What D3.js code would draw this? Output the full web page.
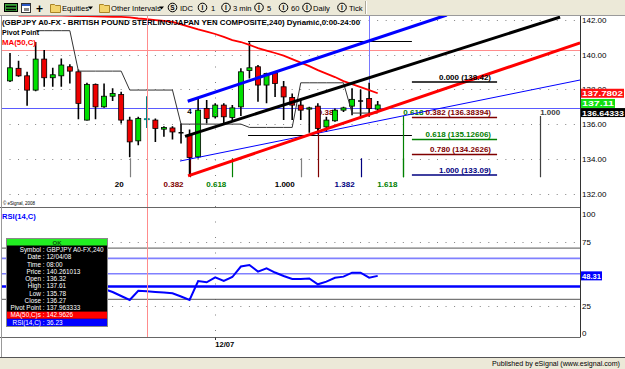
<!DOCTYPE html>
<html>
<head>
<meta charset="utf-8">
<script src="https://cdn.jsdelivr.net/npm/d3@7"></script>
<style>
  html, body { margin: 0; padding: 0; background: #fff; }
  svg { display: block; font-family: "Liberation Sans", Arial, sans-serif; }
</style>
</head>
<body>
<div id="chart"></div>
<script>
// GBPJPY 240-min candles (bar index 0..43)
const opens  = [138.49, 139.21, 138.78, 137.96, 139.74, 138.67, 138.78, 139.30, 139.01, 136.24,
                138.29, 137.00, 137.61, 137.71, 136.24, 135.05, 136.32, 136.24, 135.72, 135.79,
                135.52, 135.37, 134.13, 136.91, 136.43, 137.10, 136.39, 137.00, 139.08, 139.30,
                138.25, 138.95, 138.15, 137.54, 137.10, 136.87, 137.04, 135.85, 136.20, 136.81,
                137.04, 137.33, 137.48, 136.87];
const highs  = [140.09, 139.64, 139.01, 140.72, 140.26, 139.24, 139.78, 139.45, 139.15, 138.38,
                138.34, 138.34, 138.06, 137.86, 136.43, 136.43, 137.61, 136.33, 135.89, 135.89,
                136.05, 135.70, 137.48, 137.39, 137.20, 137.20, 137.10, 139.21, 140.70, 139.40,
                138.95, 138.98, 138.49, 137.77, 137.39, 137.00, 137.20, 136.43, 136.91, 137.00,
                138.06, 138.00, 138.38, 137.33];
const lows   = [138.42, 138.72, 137.06, 137.90, 138.15, 138.15, 138.15, 138.34, 136.29, 136.21,
                136.29, 136.95, 137.33, 136.05, 134.11, 134.80, 135.78, 134.99, 135.28, 135.13,
                134.90, 133.09, 134.03, 136.05, 136.33, 136.08, 136.24, 136.47, 138.63, 137.29,
                137.20, 137.57, 136.24, 136.24, 136.24, 135.51, 135.43, 135.56, 136.14, 136.71,
                136.52, 136.47, 136.43, 136.75];
const closes = [139.24, 138.78, 137.96, 139.74, 138.67, 138.84, 139.40, 139.05, 137.20, 138.29,
                137.00, 137.61, 137.77, 136.24, 134.99, 136.33, 136.27, 135.76, 135.82, 135.56,
                135.50, 134.09, 136.81, 136.33, 137.10, 136.43, 136.94, 139.01, 139.24, 138.25,
                138.92, 138.34, 137.57, 137.10, 136.81, 136.94, 135.76, 136.24, 136.81, 136.94,
                137.43, 137.30, 136.91, 137.11];

const maValues = [null, 142.24, 142.24, 142.24, 142.24, 142.24, 142.23, 142.22, 142.21, 142.20,
                  142.19, 142.18, 142.17, 142.16, 142.13, 142.07, 142.03, 141.98, 141.93, 141.87,
                  141.73, 141.59, 141.44, 141.32, 141.18, 141.01, 140.83, 140.72, 140.55, 140.37,
                  140.23, 140.09, 139.94, 139.74, 139.54, 139.34, 139.11, 138.91, 138.71, 138.48,
                  138.30, 138.13, 137.96, 137.7802];

const pivotValues = [null, null, null, 141.37, 141.37, 141.37, 141.37, 141.37, 139.05, 139.05,
                     139.05, 139.05, 139.05, 139.05, 137.963333, 137.963333, 137.963333, 137.963333, 137.963333, 137.963333,
                     136.01, 136.01, 136.01, 136.01, 136.01, 136.01, 136.01, 136.01, 135.82, 135.82,
                     135.82, 135.82, 135.82, 135.82, 138.38, 138.38, 138.38, 138.38, 138.38, 138.38,
                     136.64333, 136.64333, 136.64333, 136.64333];

const rsiValues = [null, null, null, null, null, null, null, null, null, null,
                   38.5, 38.0, 35.7, 32.6, 29.5, 36.7, 36.23, 35.7, 35.3, 34.7,
                   32.2, 29.5, 44.3, 43.3, 47.2, 44.3, 47.4, 55.6, 56.8, 51.6,
                   54.2, 50.9, 48.2, 45.9, 45.9, 46.3, 41.7, 43.8, 46.8, 47.7,
                   50.8, 50.8, 46.9, 48.31];

const priceTicks = [132, 134, 136, 138, 140, 142];
const rsiTicks = [0, 25, 75, 100];
const rsiGuideLevels = [70, 62, 50, 40, 30];

// drawn tools, in (bar index, price)
const blueChannel  = [[20.78, 137.32], [51.08, 142.27]];
const blackChannel = [[20.47, 135.31], [64.33, 142.15]];
const redChannel   = [[20.82, 133.04], [66.67, 140.67]];
const thinBlueLine = [[19.88, 133.89], [66.67, 138.54]];
const rangeBars = [27.84, 47.0];
const rangePrices = [140.78, 135.41];
const userLinePrice = 136.95;

const fibRatios = ['0.000', '0.382', '0.618', '0.780', '1.000'];
const fibPrices = [138.42, 136.38394, 135.12606, 134.2626, 133.09];
const fibPriceText = ['138.42', '136.38394', '135.12606', '134.2626', '133.09'];
const fibBars = [47.0, 56.96];

const fibTimeBars = [14, 21, 26, 34, 41, 46];
const fibTimeText = ['20', '0.382', '0.618', '1.000', '1.382', '1.618'];
const projBars = [36, 46, 62];
const projText = ['0.382', '0.618', '1.000'];

const cursorBar = 16;
const cursorPrice = 140.261013;
const markerBar = 42;
const dateBar = 24;
const dateText = '12/07';

const infoLabels = ['Symbol', 'Date', 'Time', 'Price', 'Open', 'High', 'Low', 'Close', 'Pivot Point', 'MA(50,C)s', 'RSI(14,C)'];
const infoValues = ['GBPJPY A0-FX,240', '12/04/08', '08:00', '140.261013', '136.32', '137.61', '135.78', '136.27', '137.963333', '142.9626', '36.23'];

const W = 625, H = 369;
const AXIS_X = 580;
const PRICE_TOP = 16, PRICE_BOTTOM = 207.5;
const RSI_TOP = 208, RSI_BOTTOM = 337.5;

const x = d3.scaleLinear().domain([0, 43]).range([10, 377.7]);
const y = d3.scaleLinear().domain([132, 142]).range([194, 19.7]);
const yRsi = d3.scaleLinear().domain([0, 100]).range([337.7, 209.7]);
const px = v => Math.round(v) + 0.5;

const svg = d3.select('#chart').append('svg').attr('width', W).attr('height', H);
svg.append('rect').attr('width', W).attr('height', H).attr('fill', '#fff');

const defs = svg.append('defs');
defs.append('clipPath').attr('id', 'clipPrice').append('rect')
  .attr('x', 2).attr('y', PRICE_TOP).attr('width', AXIS_X - 2).attr('height', PRICE_BOTTOM - PRICE_TOP);
defs.append('clipPath').attr('id', 'clipRsi').append('rect')
  .attr('x', 2).attr('y', RSI_TOP).attr('width', AXIS_X - 2).attr('height', RSI_BOTTOM - RSI_TOP);

// ---------- toolbar ----------
const tb = svg.append('g');
tb.append('rect').attr('width', W).attr('height', 15).attr('fill', '#ece9d8');
tb.append('line').attr('x1', 0).attr('x2', W).attr('y1', 15.5).attr('y2', 15.5).attr('stroke', '#9a9a9a');
tb.append('line').attr('x1', 365.5).attr('x2', 365.5).attr('y1', 1).attr('y2', 14).attr('stroke', '#aca899');
tb.append('line').attr('x1', 366.5).attr('x2', 366.5).attr('y1', 1).attr('y2', 14).attr('stroke', '#fff');

tb.append('rect').attr('x', 4.5).attr('y', 3.5).attr('width', 13).attr('height', 8).attr('fill', '#3aa53a').attr('stroke', '#000');
tb.append('path').attr('d', 'M6,9.5 h10 M6,6.5 h10').attr('stroke', '#000').attr('stroke-width', 1.5);
tb.append('rect').attr('x', 21.5).attr('y', 3.5).attr('width', 9).attr('height', 9).attr('fill', '#fff').attr('stroke', '#333');
tb.append('rect').attr('x', 22).attr('y', 4).attr('width', 8).attr('height', 2).attr('fill', '#2b58c4');
tb.append('rect').attr('x', 24).attr('y', 8).attr('width', 5).attr('height', 3).attr('fill', '#888');
tb.append('text').attr('x', 36).attr('y', 12.5).attr('font-size', 12).attr('font-weight', 'bold').text('+');

function folder(x0) {
  tb.append('path').attr('d', `M${x0 + 0.5},4.5 h4 l1,1 h5 v7 h-10 z`)
    .attr('fill', '#f3d46c').attr('stroke', '#a88428');
}
function dropArrow(x0) {
  tb.append('path').attr('d', `M${x0},6.5 h5 l-2.5,3 z`).attr('fill', '#000');
}
function circleIcon(cx, letter) {
  tb.append('circle').attr('cx', cx).attr('cy', 7.5).attr('r', 4.3).attr('fill', 'none').attr('stroke', '#000');
  tb.append('text').attr('x', cx).attr('y', 10).attr('text-anchor', 'middle')
    .attr('font-size', 6.5).attr('font-weight', 'bold').text(letter);
}
function tbText(x0, s) {
  tb.append('text').attr('x', x0).attr('y', 11).attr('font-size', 7.6).attr('fill', '#000').text(s);
}
folder(50); tbText(62, 'Equities'); dropArrow(88);
folder(99); tbText(111, 'Other Intervals'); dropArrow(159);
circleIcon(172.5, 'S'); tbText(180, 'IDC');
circleIcon(202.5, 'I'); tbText(211, '1');
circleIcon(226, 'I'); tbText(233, '3 min');
circleIcon(259, 'I'); tbText(267, '5');
circleIcon(283.5, 'I'); tbText(291, '60');
circleIcon(307, 'I'); tbText(313, 'Daily');
circleIcon(342, 'I'); tbText(349, 'Tick');

// ---------- price panel ----------
const price = svg.append('g').attr('clip-path', 'url(#clipPrice)');

priceTicks.forEach(v => {
  price.append('line').attr('x1', 9.5).attr('x2', AXIS_X - 2)
    .attr('y1', px(y(v))).attr('y2', px(y(v)))
    .attr('stroke', '#808080').attr('stroke-dasharray', '1 7.55');
});

// vertical dotted date separator
svg.append('line').attr('x1', px(x(dateBar))).attr('x2', px(x(dateBar)))
  .attr('y1', PRICE_TOP + 4).attr('y2', RSI_BOTTOM)
  .attr('stroke', '#808080').attr('stroke-dasharray', '1 14.5');

// crosshair and user lines
price.append('line').attr('x1', 0).attr('x2', AXIS_X).attr('y1', px(y(cursorPrice))).attr('y2', px(y(cursorPrice)))
  .attr('stroke', '#ff8c8c');
price.append('line').attr('x1', 0).attr('x2', AXIS_X).attr('y1', px(y(userLinePrice))).attr('y2', px(y(userLinePrice)))
  .attr('stroke', '#5a5aff');
price.append('line').attr('x1', px(x(markerBar))).attr('x2', px(x(markerBar)))
  .attr('y1', PRICE_TOP).attr('y2', y(highs[markerBar]))
  .attr('stroke', '#7878ff');

// range lines of the fib tool
rangePrices.forEach(p => {
  price.append('line').attr('x1', x(rangeBars[0])).attr('x2', x(rangeBars[1]))
    .attr('y1', px(y(p))).attr('y2', px(y(p))).attr('stroke', '#000');
});

// fib projection labels (partly hidden by candles)
const projColors = ['#800000', '#008000', '#404040'];
projBars.forEach((b, k) => {
  price.append('line').attr('x1', px(x(b))).attr('x2', px(x(b)))
    .attr('y1', y(136.47)).attr('y2', y(132.96)).attr('stroke', projColors[k]).attr('stroke-width', 1.2);
  price.append('text').attr('x', x(b)).attr('y', 114.5).attr('font-size', 8).attr('font-weight', 'bold')
    .attr('fill', projColors[k]).text(projText[k]);
});

// fib time markers along the bottom
const timeLineColors = ['#808080', '#800000', '#008000', '#808080', '#000080', '#008000'];
const timeTextColors = ['#000', '#800000', '#008000', '#000', '#000080', '#008000'];
fibTimeBars.forEach((b, k) => {
  price.append('line').attr('x1', px(x(b))).attr('x2', px(x(b)))
    .attr('y1', y(134.05)).attr('y2', y(132.96)).attr('stroke', timeLineColors[k]).attr('stroke-width', 1.2);
  price.append('text').attr('x', x(b) - 6).attr('y', 186.5).attr('text-anchor', 'end')
    .attr('font-size', 8).attr('font-weight', 'bold').attr('fill', timeTextColors[k]).text(fibTimeText[k]);
});

// candles
const candles = d3.range(opens.length).map(i => ({ i, o: opens[i], h: highs[i], l: lows[i], c: closes[i] }));
const isDoji = d => Math.abs(d.c - d.o) < 0.04;
price.append('g').selectAll('line').data(candles).join('line')
  .attr('x1', d => x(d.i)).attr('x2', d => x(d.i))
  .attr('y1', d => y(d.h)).attr('y2', d => y(d.l))
  .attr('stroke', d => d.i === cursorBar ? '#008080' : '#000')
  .attr('stroke-width', 1.6);
price.append('g').selectAll('rect').data(candles.filter(d => !isDoji(d))).join('rect')
  .attr('x', d => x(d.i) - 2.5).attr('width', 5)
  .attr('y', d => y(Math.max(d.o, d.c)))
  .attr('height', d => Math.max(1, Math.abs(y(d.o) - y(d.c))))
  .attr('fill', d => d.i === cursorBar ? '#008080' : (d.c > d.o ? '#00e000' : '#ee0000'))
  .attr('stroke', d => d.i === cursorBar ? '#008080' : '#000')
  .attr('stroke-width', 0.8);
price.append('g').selectAll('line').data(candles.filter(isDoji)).join('line')
  .attr('x1', d => x(d.i) - 2.5).attr('x2', d => x(d.i) + 2.5)
  .attr('y1', d => y(d.o)).attr('y2', d => y(d.o))
  .attr('stroke', '#000').attr('stroke-width', 1.5);

// wave label
price.append('text').attr('x', x(21)).attr('y', y(136.6)).attr('text-anchor', 'middle')
  .attr('font-size', 8).attr('font-weight', 'bold').text('4');

// pivot point
const pivotLine = d3.line().defined(d => d != null).x((d, i) => x(i)).y(d => y(d));
price.append('path').attr('d', pivotLine(pivotValues)).attr('fill', 'none')
  .attr('stroke', '#333').attr('stroke-width', 1);

// MA(50,C)
price.append('path').attr('d', pivotLine(maValues)).attr('fill', 'none')
  .attr('stroke', '#ff0000').attr('stroke-width', 1.8);

// trend lines
const seg = d3.line().x(d => x(d[0])).y(d => y(d[1]));
price.append('path').attr('d', seg(thinBlueLine)).attr('stroke', '#0000ff').attr('stroke-width', 1).attr('fill', 'none');
price.append('path').attr('d', seg(blueChannel)).attr('stroke', '#0000ff').attr('stroke-width', 3).attr('fill', 'none');
price.append('path').attr('d', seg(blackChannel)).attr('stroke', '#000').attr('stroke-width', 3).attr('fill', 'none');
price.append('path').attr('d', seg(redChannel)).attr('stroke', '#ff0000').attr('stroke-width', 3).attr('fill', 'none');

// fib retracement levels
const fibColors = ['#000', '#800000', '#008000', '#800000', '#000080'];
fibPrices.forEach((p, k) => {
  price.append('line').attr('x1', x(fibBars[0])).attr('x2', x(fibBars[1]))
    .attr('y1', y(p)).attr('y2', y(p)).attr('stroke', fibColors[k]).attr('stroke-width', 1.5);
  price.append('text').attr('x', 491).attr('y', y(p) - 2.5).attr('text-anchor', 'end')
    .attr('font-size', 8).attr('font-weight', 'bold').attr('fill', fibColors[k])
    .text(`${fibRatios[k]} (${fibPriceText[k]})`);
});

// titles
svg.append('text').attr('x', 2).attr('y', 25).attr('font-size', 8).attr('font-weight', 'bold')
  .attr('textLength', 358).attr('lengthAdjust', 'spacingAndGlyphs')
  .text('(GBPJPY A0-FX - BRITISH POUND STERLING/JAPAN YEN COMPOSITE,240) Dynamic,0:00-24:00');
svg.append('text').attr('x', 2).attr('y', 35).attr('font-size', 7.6).attr('font-weight', 'bold')
  .attr('textLength', 37).attr('lengthAdjust', 'spacingAndGlyphs').text('Pivot Point');
svg.append('text').attr('x', 2).attr('y', 45).attr('font-size', 7.6).attr('font-weight', 'bold')
  .attr('fill', '#ff0000').attr('textLength', 34).attr('lengthAdjust', 'spacingAndGlyphs').text('MA(50,C)');
svg.append('text').attr('x', 3).attr('y', 205).attr('font-size', 4.5).text('\u00a9 eSignal, 2008');

// ---------- RSI panel ----------
const rsi = svg.append('g').attr('clip-path', 'url(#clipRsi)');
[75, 25].forEach(v => {
  rsi.append('line').attr('x1', 9.5).attr('x2', AXIS_X - 2).attr('y1', px(yRsi(v))).attr('y2', px(yRsi(v)))
    .attr('stroke', '#808080').attr('stroke-dasharray', '1 7.55');
});
const guideColors = ['#555', '#8080ff', '#8080ff', '#0000ff', '#555'];
const guideWidths = [1, 1.6, 1.6, 2.6, 1];
rsiGuideLevels.forEach((v, k) => {
  rsi.append('line').attr('x1', 0).attr('x2', AXIS_X).attr('y1', yRsi(v)).attr('y2', yRsi(v))
    .attr('stroke', guideColors[k]).attr('stroke-width', guideWidths[k]);
});
const rsiLine = d3.line().defined(d => d != null).x((d, i) => x(i)).y(d => yRsi(d));
rsi.append('path').attr('d', rsiLine(rsiValues)).attr('fill', 'none')
  .attr('stroke', '#0000ff').attr('stroke-width', 2);
svg.append('text').attr('x', 2).attr('y', 218.5).attr('font-size', 7.6).attr('font-weight', 'bold')
  .attr('fill', '#0000ff').text('RSI(14,C)');

// crosshair vertical through both panels
svg.append('line').attr('x1', px(x(cursorBar))).attr('x2', px(x(cursorBar)))
  .attr('y1', PRICE_TOP).attr('y2', RSI_BOTTOM).attr('stroke', '#ff8c8c');

// panel frames
svg.append('line').attr('x1', 0).attr('x2', AXIS_X).attr('y1', 207.5).attr('y2', 207.5).attr('stroke', '#666');
svg.append('line').attr('x1', 0).attr('x2', AXIS_X).attr('y1', RSI_BOTTOM).attr('y2', RSI_BOTTOM).attr('stroke', '#666');
svg.append('line').attr('x1', AXIS_X + 0.5).attr('x2', AXIS_X + 0.5).attr('y1', PRICE_TOP).attr('y2', RSI_BOTTOM).attr('stroke', '#333');
svg.append('line').attr('x1', 1.5).attr('x2', 1.5).attr('y1', PRICE_TOP).attr('y2', 357).attr('stroke', '#999');

// info window
const info = svg.append('g');
info.append('rect').attr('x', 6.5).attr('y', 238.5).attr('width', 101).attr('height', 88).attr('fill', '#000').attr('stroke', '#888');
info.append('rect').attr('x', 7).attr('y', 239).attr('width', 100).attr('height', 6.5).attr('fill', '#22ee22');
info.append('text').attr('x', 57).attr('y', 244.8).attr('text-anchor', 'middle').attr('font-size', 6).attr('font-weight', 'bold').attr('fill', '#0a600a').text('OK');
info.append('rect').attr('x', 7).attr('y', 311.6).attr('width', 100).attr('height', 7.2).attr('fill', '#ff0000');
info.append('rect').attr('x', 7).attr('y', 318.8).attr('width', 100).attr('height', 7.2).attr('fill', '#0000ff');
infoLabels.forEach((lab, k) => {
  const yy = 252 + k * 7.25;
  info.append('text').attr('x', 44.5).attr('y', yy).attr('text-anchor', 'end').attr('font-size', 6.4).attr('fill', '#fff').text(lab + ' :');
  info.append('text').attr('x', 46.5).attr('y', yy).attr('font-size', 6.4).attr('fill', '#fff').text(infoValues[k]);
});

// ---------- right axes ----------
priceTicks.forEach(v => {
  svg.append('text').attr('x', 582).attr('y', y(v) + 3).attr('font-size', 8).text(v.toFixed(2));
});
rsiTicks.forEach(v => {
  const yy = Math.min(Math.max(yRsi(v), 214), 333);
  svg.append('text').attr('x', 582).attr('y', yy + 3).attr('font-size', 8).text(v);
});
function tag(yy, text, bg, w) {
  svg.append('rect').attr('x', 581).attr('y', yy - 4.5).attr('width', w).attr('height', 9).attr('fill', bg);
  svg.append('text').attr('x', 582).attr('y', yy + 3).attr('font-size', 8).attr('font-weight', 'bold')
    .attr('fill', '#fff').attr('textLength', w - 2).attr('lengthAdjust', 'spacingAndGlyphs').text(text);
}
tag(y(maValues[43]), '137.7802', '#ff1010', 43);
tag(y(closes[43]) - 1.5, '137.11', '#10e010', 34);
tag(y(pivotValues[43]) - 0.5, '136.64333', '#000', 44);
tag(yRsi(rsiValues[43]), '48.31', '#0000ff', 21);

// ---------- date axis ----------
svg.append('line').attr('x1', px(x(dateBar))).attr('x2', px(x(dateBar))).attr('y1', RSI_BOTTOM).attr('y2', 340).attr('stroke', '#333');
svg.append('text').attr('x', x(dateBar)).attr('y', 346.5).attr('font-size', 7.6).attr('font-weight', 'bold').text(dateText);

// ---------- status bar ----------
svg.append('rect').attr('x', 0).attr('y', 357).attr('width', W).attr('height', 12).attr('fill', '#ece9d8');
svg.append('line').attr('x1', 0).attr('x2', W).attr('y1', 357.5).attr('y2', 357.5).attr('stroke', '#555');
svg.append('text').attr('x', 620).attr('y', 365.5).attr('text-anchor', 'end').attr('font-size', 7.4)
  .attr('textLength', 128).attr('lengthAdjust', 'spacingAndGlyphs').text('Published by eSignal (www.esignal.com)');
</script>
</body>
</html>
